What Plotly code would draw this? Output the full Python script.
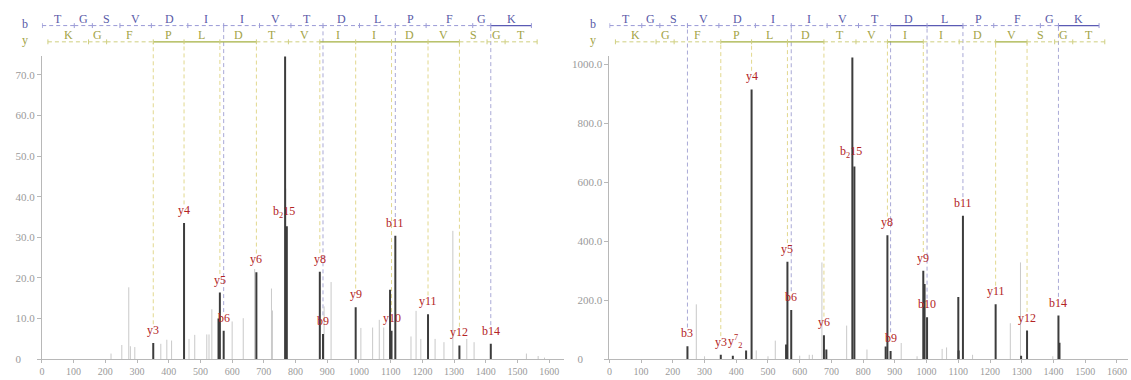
import plotly.graph_objects as go

W, H = 1131, 380

# ---------------- sequence (shared) ----------------
b_residues = list("TGSVDIIVTDLPFGK")
y_residues = list("KGFPLDTVIIDVSGT")
b_bounds = [1.0, 102.1, 159.1, 246.1, 345.2, 460.2, 573.3, 686.4, 785.4, 886.5,
            1001.5, 1114.6, 1211.7, 1358.7, 1415.7, 1543.8]
y_bounds = [19.0, 147.1, 204.1, 351.2, 448.3, 561.3, 676.4, 777.4, 876.5, 989.6,
            1102.7, 1217.7, 1316.7, 1403.8, 1460.8, 1561.8]

# ---------------- left spectrum ----------------
left_solid_b = [14]
left_solid_y = [3, 4, 5, 8, 9, 10, 11]
left_ion_names = ["y3", "y4", "y5", "b6", "y6", "b15", "y8", "b9", "y9", "y10", "b11", "y11", "y12", "b14"]
left_ion_charge = [1, 1, 1, 1, 1, 2, 1, 1, 1, 1, 1, 1, 1, 1]
left_ion_mz = [351.2, 448.3, 561.3, 573.3, 676.4, 772.4, 876.5, 886.5, 989.6, 1102.7, 1114.6, 1217.7, 1316.7, 1415.7]
left_ion_int = [4.0, 33.5, 16.4, 7.0, 21.4, 32.7, 21.5, 6.2, 12.8, 7.0, 30.4, 11.1, 3.4, 3.8]
left_dark_mz = [557.0, 767.0, 1098.0]
left_dark_int = [10.0, 74.5, 17.1]
left_light_mz = [218, 252, 274, 279, 293, 375, 394, 409, 464, 482, 520, 527, 536, 600, 635, 671, 724, 727,
                 769, 890, 912, 1006, 1043, 1064, 1078, 1164, 1180, 1195, 1240, 1268, 1296, 1340, 1363,
                 1528, 1565, 1585]
left_light_int = [1.4, 3.5, 17.7, 3.2, 3.0, 3.8, 4.8, 4.6, 5.0, 6.0, 6.1, 6.1, 12.3, 9.3, 10.1, 22.2, 17.4, 12.0,
                  42.0, 13.0, 19.0, 7.7, 7.8, 9.7, 7.8, 5.6, 11.9, 5.0, 5.0, 4.2, 31.6, 5.0, 4.2,
                  1.4, 0.8, 0.4]
left_yticks = [0, 10, 20, 30, 40, 50, 60, 70]
left_yticktext = ["0\u00a0\u00a0\u00a0\u00a0\u00a0", "10.0", "20.0", "30.0", "40.0", "50.0", "60.0", "70.0"]
left_ymax = 74.6

# ---------------- right spectrum ----------------
right_solid_b = [9, 10, 14]
right_solid_y = [3, 4, 5, 8, 11]
right_ion_names = ["b3", "y3", "y7", "y4", "y5", "b6", "y6", "b15", "y8", "b9", "y9", "b10", "b11", "y11", "y12", "b14"]
right_ion_charge = [1, 1, 2, 1, 1, 1, 1, 2, 1, 1, 1, 1, 1, 1, 1, 1]
right_ion_mz = [246.1, 351.2, 389.2, 448.3, 561.3, 573.3, 676.4, 772.4, 876.5, 886.5, 989.6, 1001.5,
                1114.6, 1217.7, 1316.7, 1415.7]
right_ion_int = [44, 15, 12, 914, 330, 167, 81, 653, 420, 28, 300, 142, 486, 186, 97, 148]
right_dark_mz = [431, 557, 684, 766, 871, 993.7, 1100, 1101, 1298, 1419]
right_dark_int = [30, 50, 33, 1022, 43, 255, 211, 30, 12, 56]
right_light_mz = [274, 300, 463, 500, 523, 600, 630, 640, 670, 748, 812, 920, 970, 1049, 1063, 1145,
                  1264, 1296, 1398]
right_light_int = [186, 10, 30, 10, 63, 12, 15, 15, 328, 114, 33, 55, 10, 35, 40, 15, 122, 328, 10]
right_yticks = [0, 200, 400, 600, 800, 1000]
right_yticktext = ["0" + "\u00a0" * 7, "200.0", "400.0", "600.0", "800.0", "1000.0"]
right_ymax = 1027

xticks = list(range(0, 1700, 100))

# ---------------- styling ----------------
SERIF = "Liberation Serif"
Y_DOM = [1 - 365 / H, 1 - 57 / H]
B_ROW, Y_ROW = 26, 42.5          # px from top
B_TXT, Y_TXT = 19.5, 35.5
B_DASH, B_SOLID, B_TXTC = "#9a9ad6", "#5a5ab4", "#5a5aa8"
Y_DASH, Y_SOLID, Y_TXTC = "#cfcf80", "#a4b040", "#a3a346"
B_GUIDE, Y_GUIDE = "#a9a9d6", "#e2d88e"
LABEL_C = "#b32424"


def py(px):
    return 1 - px / H


def stems(mz, inten):
    xs, ys = [], []
    for m, v in zip(mz, inten):
        xs += [m, m, None]
        ys += [0, v, None]
    return xs, ys


fig = go.Figure()
shapes, annos = [], []

panels = [
    dict(x="x", y="y", xdom=[39 / W, 562 / W], xmax=1645, ymax=left_ymax, yt=left_yticks, ytt=left_yticktext,
         sb=left_solid_b, sy=left_solid_y, names=left_ion_names, ch=left_ion_charge, mz=left_ion_mz,
         it=left_ion_int, dmz=left_dark_mz, dit=left_dark_int, lmz=left_light_mz, lit=left_light_int,
         lab_x=22),
    dict(x="x2", y="y2", xdom=[608 / W, 1128 / W], xmax=1635, ymax=right_ymax, yt=right_yticks,
         ytt=right_yticktext, sb=right_solid_b, sy=right_solid_y, names=right_ion_names, ch=right_ion_charge,
         mz=right_ion_mz, it=right_ion_int, dmz=right_dark_mz, dit=right_dark_int, lmz=right_light_mz,
         lit=right_light_int, lab_x=592),
]

for p in panels:
    xr, yr = p["x"], p["y"]
    # light peaks
    xs, ys = stems(p["lmz"], p["lit"])
    fig.add_trace(go.Scatter(x=xs, y=ys, mode="lines", line=dict(color="#c9c9c9", width=1),
                             xaxis=xr, yaxis=yr, hoverinfo="skip", showlegend=False))
    # dark peaks
    xs, ys = stems(p["dmz"] + p["mz"], p["dit"] + p["it"])
    fig.add_trace(go.Scatter(x=xs, y=ys, mode="lines", line=dict(color="#3c3c3c", width=2),
                             xaxis=xr, yaxis=yr, hoverinfo="skip", showlegend=False))

    # sequence rows
    for bounds, residues, solid, row, txt, dcol, scol, tcol in [
        (b_bounds, b_residues, p["sb"], B_ROW, B_TXT, B_DASH, B_SOLID, B_TXTC),
        (y_bounds, y_residues, p["sy"], Y_ROW, Y_TXT, Y_DASH, Y_SOLID, Y_TXTC),
    ]:
        for i, r in enumerate(residues):
            x0, x1 = bounds[i], bounds[i + 1]
            is_solid = i in solid
            shapes.append(dict(type="line", xref=xr, yref="paper", x0=x0, x1=x1, y0=py(row), y1=py(row),
                               line=dict(color=scol if is_solid else dcol, width=1.2 if is_solid else 1,
                                         dash="solid" if is_solid else "4px,3px")))
            annos.append(dict(x=(x0 + x1) / 2, y=py(txt), xref=xr, yref="paper", text=r, showarrow=False,
                              font=dict(family=SERIF, size=12, color=tcol), xanchor="center", yanchor="middle"))
        for bnd in bounds:
            shapes.append(dict(type="line", xref=xr, yref="paper", x0=bnd, x1=bnd, y0=py(row - 2.5),
                               y1=py(row + 2.5), line=dict(color=dcol, width=1)))

    annos.append(dict(x=p["lab_x"] / W, y=py(24), xref="paper", yref="paper", text="b", showarrow=False,
                      font=dict(family=SERIF, size=12, color=B_TXTC), xanchor="center", yanchor="middle"))
    annos.append(dict(x=p["lab_x"] / W, y=py(41), xref="paper", yref="paper", text="y", showarrow=False,
                      font=dict(family=SERIF, size=12, color=Y_TXTC), xanchor="center", yanchor="middle"))

    # ion labels + guide lines
    for name, ch, m, v in zip(p["names"], p["ch"], p["mz"], p["it"]):
        if ch == 2:
            txt = name[0] + "<sup>" + name[1:] + "</sup><sub>2</sub>" if name.startswith("y") \
                else name[0] + "<sub>2</sub>" + name[1:]
            xshift = -3 if name.startswith("b") else 2
        else:
            txt, xshift = name, 0
        annos.append(dict(x=m, y=v, xref=xr, yref=yr, text=txt, showarrow=False, yanchor="bottom",
                          xanchor="center", yshift=4, xshift=xshift,
                          font=dict(family=SERIF, size=12, color=LABEL_C)))
        if ch == 1:
            top = B_ROW if name.startswith("b") else Y_ROW
            y_lab = Y_DOM[0] + v / p["ymax"] * (Y_DOM[1] - Y_DOM[0]) + 19 / H
            shapes.append(dict(type="line", xref=xr, yref="paper", x0=m, x1=m, y0=y_lab, y1=py(top + 1),
                               line=dict(color=B_GUIDE if name.startswith("b") else Y_GUIDE, width=1,
                                         dash="4px,3px"), layer="below"))

axis_common = dict(showgrid=False, zeroline=False, showline=True, linecolor="#b8b8b8", linewidth=1,
                   ticks="outside", ticklen=3, tickcolor="#b8b8b8",
                   tickfont=dict(family=SERIF, size=10, color="#9a9a9a"))

layout = dict(
    width=W, height=H, margin=dict(l=0, r=0, t=0, b=0), paper_bgcolor="white", plot_bgcolor="white",
    showlegend=False, shapes=shapes, annotations=annos,
)
for i, p in enumerate(panels):
    sx = "" if i == 0 else "2"
    layout["xaxis" + sx] = dict(axis_common, domain=p["xdom"], range=[0, p["xmax"]], tickvals=xticks,
                                anchor="y" + sx)
    layout["yaxis" + sx] = dict(axis_common, domain=Y_DOM, range=[0, p["ymax"]], tickvals=p["yt"],
                                ticktext=p["ytt"], anchor="x" + sx, ticklen=4,
                                tickfont=dict(family=SERIF, size=11, color="#9a9a9a"))
fig.update_layout(**layout)
fig.write_html("out.html")
